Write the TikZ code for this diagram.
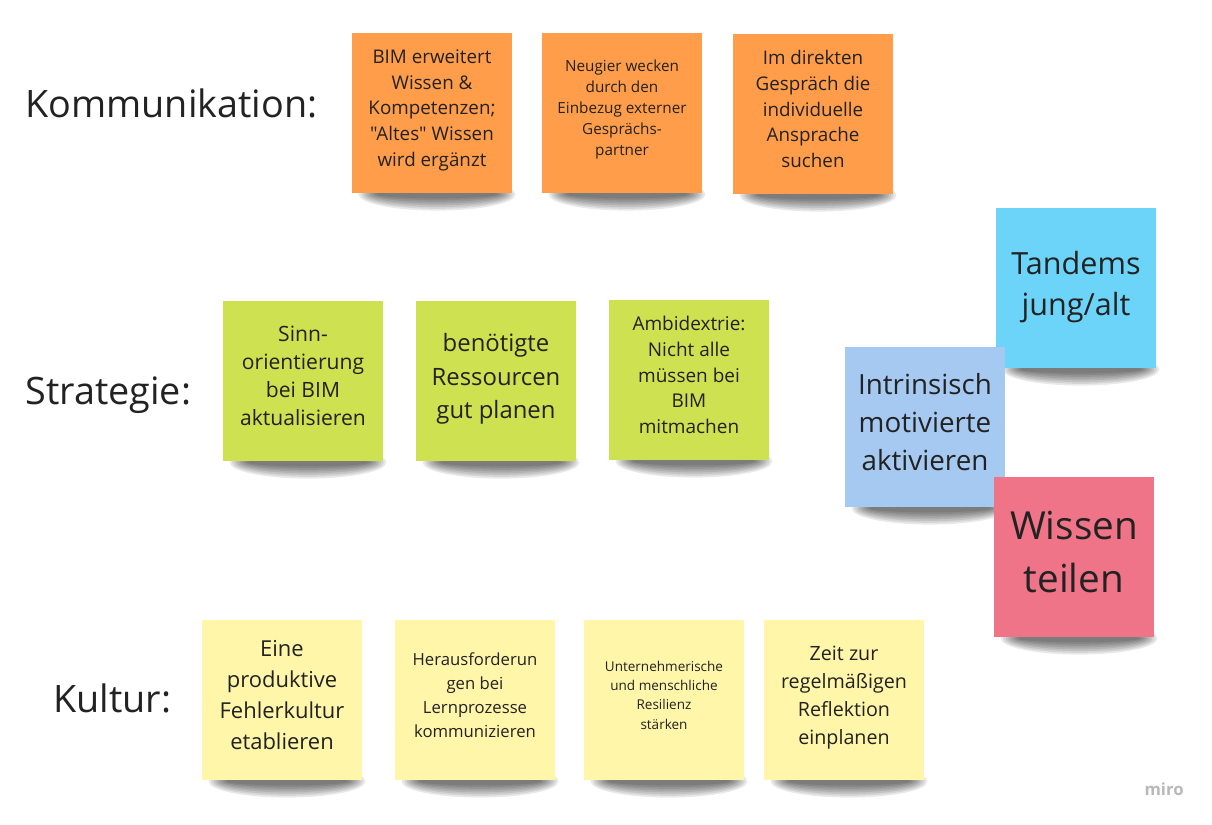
\documentclass[tikz,border=0pt]{standalone}
\usepackage{fontspec}
\setmainfont{Open Sans}[Ligatures=TeXOff]
\usepackage{tikz}
\usetikzlibrary{backgrounds}

\definecolor{noteorange}{HTML}{FF9D4A}
\definecolor{notegreen}{HTML}{CEE150}
\definecolor{notecyan}{HTML}{6DD4F9}
\definecolor{noteblue}{HTML}{A6C9F1}
\definecolor{notered}{HTML}{F07487}
\definecolor{noteyellow}{HTML}{FFF6A9}
\definecolor{notetext}{HTML}{222222}

\begin{document}
\begin{tikzpicture}[x=0.02cm, y=-0.02cm,
  note/.style={minimum width=3.2cm, minimum height=3.2cm, inner sep=0pt, align=center, text=notetext, text depth=0.2cm},
  heading/.style={anchor=base west, inner sep=0pt, font=\fontsize{21.5}{26}\selectfont, text=notetext},
  fs/.style 2 args={font=\fontsize{#1}{#2}\selectfont}]
\useasboundingbox (0,0) rectangle (1212,824);

% row labels
\node[heading] (komm) at (25,118) {Kommunikation:};
\node[heading] (strat) at (25,404) {Strategie:};
\node[heading] (kult) at (53,712) {Kultur:};

% Kommunikation
\node[note, fill=noteorange, fs={10.7}{14.6}] (o1) at (432,113) {BIM erweitert\\Wissen \&\\Kompetenzen;\\"Altes" Wissen\\wird ergänzt};
\node[note, fill=noteorange, fs={8.7}{12}] (o2) at (622,113) {Neugier wecken\\durch den\\Einbezug externer\\Gesprächs-\\partner};
\node[note, fill=noteorange, fs={10.7}{14.6}] (o3) at (813,114) {Im direkten\\Gespräch die\\individuelle\\Ansprache\\suchen};

% Strategie
\node[note, fill=notegreen, fs={12}{16}] (g1) at (303,381) {Sinn-\\orientierung\\bei BIM\\aktualisieren};
\node[note, fill=notegreen, fs={13.6}{19}] (g2) at (496,381) {benötigte\\Ressourcen\\gut planen};
\node[note, fill=notegreen, fs={10.8}{14.6}] (g3) at (689,380) {Ambidextrie:\\Nicht alle\\müssen bei\\BIM\\mitmachen};

% Wissen teilen
\node[note, fill=notecyan, fs={17.4}{23.3}] (tand) at (1076,288) {Tandems\\jung/alt};
\node[note, fill=noteblue, fs={15.8}{21.8}] (intr) at (925,427) {Intrinsisch\\motivierte\\aktivieren};
\node[note, fill=notered, fs={22}{30}] (wiss) at (1074,557) {Wissen\\teilen};

% Kultur
\node[note, fill=noteyellow, fs={12.5}{17.6}] (y1) at (282,700) {Eine\\produktive\\Fehlerkultur\\etablieren};
\node[note, fill=noteyellow, fs={9.5}{13.6}] (y2) at (475,700) {Herausforderun\\gen bei\\Lernprozesse\\kommunizieren};
\node[note, fill=noteyellow, fs={7.7}{11}] (y3) at (664,700) {Unternehmerische\\und menschliche\\Resilienz\\stärken};
\node[note, fill=noteyellow, fs={11.2}{16}] (y4) at (844,700) {Zeit zur\\regelmäßigen\\Reflektion\\einplanen};

% shadows
\begin{scope}[on background layer]
\foreach \n in {o1,o2,o3,g1,g2,g3,tand,intr,wiss,y1,y2,y3,y4}
  \foreach \k in {1,...,8}
    \fill[black, opacity=.085] ([xshift=0.1cm, yshift=-0.02cm]\n.south) ellipse ({1.62cm-\k*0.05cm} and {0.36cm-\k*0.035cm});
\end{scope}

\node[anchor=base east, inner sep=0pt, text=black!28, font=\bfseries\fontsize{9.5}{11}\selectfont] (logo) at (1184,795) {miro};
\end{tikzpicture}
\end{document}
